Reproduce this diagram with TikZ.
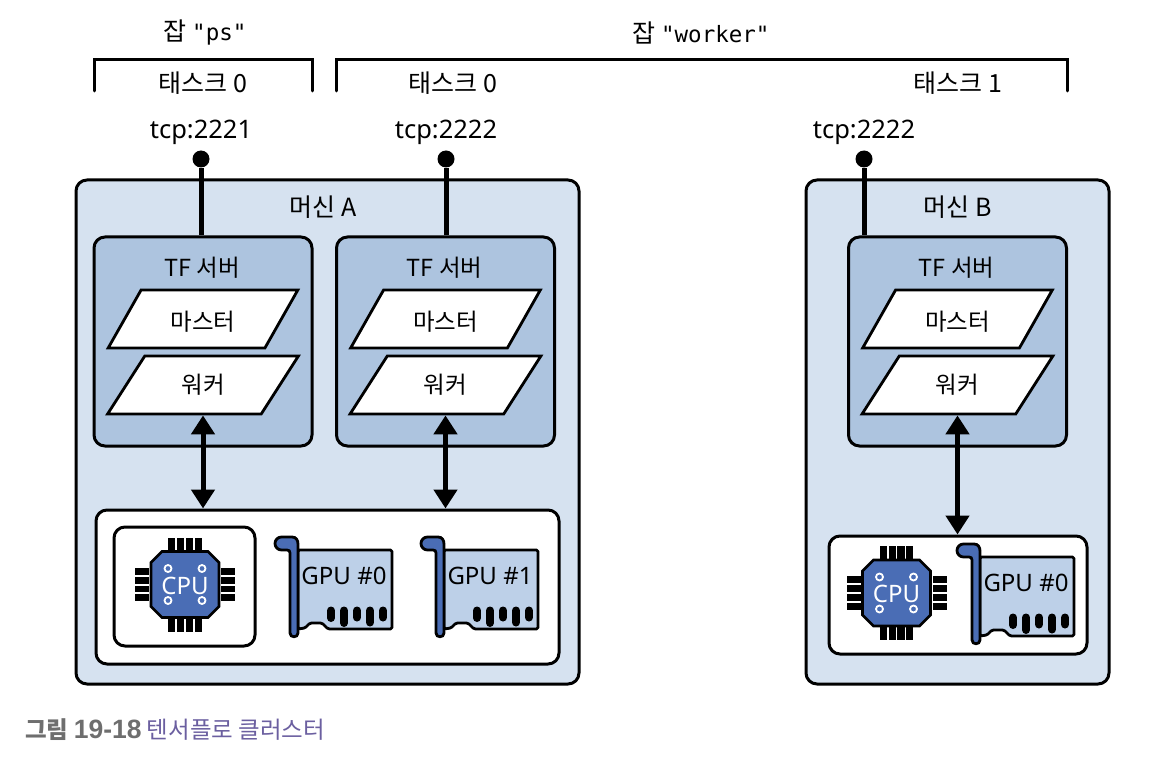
\documentclass[tikz,border=0pt]{standalone}
\usepackage{fontspec}
\setmainfont{Noto Sans}
\newfontfamily\krfont{Noto Sans CJK KR}
\newfontfamily\codefont{DejaVu Sans Mono}
\newfontfamily\capfont{Liberation Sans}
\usetikzlibrary{arrows.meta,shapes.geometric}
\definecolor{machinefill}{HTML}{D6E2F0}
\definecolor{serverfill}{HTML}{ADC4DF}
\definecolor{gpufill}{HTML}{BDD0E8}
\definecolor{chipblue}{HTML}{4A6DB5}
\definecolor{capgray}{HTML}{6E6E6E}
\definecolor{cappurple}{HTML}{6B5FA0}
\tikzset{
  box/.style={draw=black, line width=3pt, rounded corners=11pt, inner sep=0pt},
  machine/.style={box, fill=machinefill},
  server/.style={box, fill=serverfill, minimum width=218pt, minimum height=209pt},
  role/.style={draw=black, line width=2.8pt, fill=white, trapezium, trapezium left angle=57,
    trapezium right angle=123, trapezium stretches=true, minimum width=191pt,
    minimum height=58pt, inner sep=0pt, font=\fontsize{23.5}{25}\selectfont\krfont},
  label/.style={font=\fontsize{25}{27}\selectfont\krfont, inner sep=0pt},
  inlabel/.style={font=\fontsize{23.5}{25}\selectfont\krfont, inner sep=0pt},
  port/.style={font=\fontsize{25.5}{27}\selectfont, inner sep=0pt},
  dot/.style={circle, fill=black, minimum size=17pt, inner sep=0pt},
  wire/.style={line width=5pt},
  link/.style={line width=5pt, {Triangle[length=19pt,width=23pt]}-{Triangle[length=19pt,width=23pt]}},
  bracket/.style={line width=3pt, line cap=round},
  cpu/.pic={
    \foreach \i in {-1.5,-0.5,0.5,1.5} {
      \fill (\i*8.8-3.6, -47) rectangle (\i*8.8+3.6, -34);
      \fill (\i*8.8-3.6, 34) rectangle (\i*8.8+3.6, 47);
      \fill (-50, \i*8.8-3.4) rectangle (-36, \i*8.8+3.4);
      \fill (36, \i*8.8-3.4) rectangle (50, \i*8.8+3.4);
    }
    \draw [line width=2.6pt, fill=chipblue] (-23,-33) -- (23,-33) -- (34,-22) -- (34,22)
      -- (23,33) -- (-23,33) -- (-34,22) -- (-34,-22) -- cycle;
    \foreach \i/\j in {-17/-16, 17/-16, -17/16, 17/16}
      \draw [white, line width=1.8pt] (\i,\j) circle (3.5);
    \node [white, inner sep=0pt, font=\fontsize{24}{26}\selectfont] (-cpuname) at (0,1) {CPU};
  },
  gpu/.pic={
    % card
    \draw [line width=2.8pt, line join=round, fill=gpufill, rounded corners=1.5pt]
      (23,13) -- (117,13) -- (117,92) -- (53,92) -- (47,86) -- (35,86) -- (30,91) -- (23,92) -- cycle;
    \foreach \x/\h in {56/7.5, 69/12.5, 82/7, 95/12, 108/7}
      \draw [line width=8pt, line cap=round] (\x,73.5) -- (\x,73.5+\h);
    % bracket
    \draw [line width=2.8pt, fill=chipblue] (6.5,0) -- (17,0) .. controls (21,0) and (23,3) .. (23,7)
      -- (23,96) .. controls (23,101) and (15,101) .. (15,96) -- (15,16)
      .. controls (15,14) and (14,13) .. (12,13) -- (6.5,13) arc (90:270:6.5) -- cycle;
    \node [inner sep=0pt, font=\fontsize{24}{26}\selectfont] (-gpuname) at (69,39) {GPU \#\tikzpictext};
  },
}
\begin{document}
\begin{tikzpicture}[x=1pt, y=-1pt]
  \useasboundingbox (0,0) rectangle (1168,770);

  % Jobs and tasks
  \node [label] (jobps) at (205,33) {잡 {\codefont\fontsize{22.5}{24}\selectfont "ps"}};
  \node [label] (jobworker) at (701,33) {잡 {\codefont\fontsize{22.5}{24}\selectfont "worker"}};
  \node [label] (taskA) at (203,83) {태스크 0};
  \node [label] (taskB) at (453,83) {태스크 0};
  \node [label] (taskC) at (958,83) {태스크 1};
  \draw [bracket] (94,91) -- (94,60) -- (312,60) -- (312,91);
  \draw [bracket] (336,91) -- (336,60) -- (1067,60) -- (1067,91);

  % Machines
  \node [machine, minimum width=503pt, minimum height=504pt] (machineA) at (327.5,432) {};
  \node [machine, minimum width=303pt, minimum height=504pt] (machineB) at (957.5,432) {};
  \node [label] (nameA) at (323,207) {머신 A};
  \node [label] (nameB) at (958,207) {머신 B};

  % Device boxes
  \node [box, fill=white, minimum width=463pt, minimum height=154pt] (devicesA) at (327.5,587) {};
  \node [box, fill=white, minimum width=258pt, minimum height=118pt] (devicesB) at (958,595) {};
  \node [box, fill=white, minimum width=141pt, minimum height=119pt] (cpuboxA) at (184.5,586.5) {};
  \pic at (185,584.5) {cpu};
  \pic at (896.5,593) {cpu};
  \pic [pic text=0] at (275,537) {gpu};
  \pic [pic text=1] at (421,537) {gpu};
  \pic [pic text=0] at (957,544) {gpu};

  % Servers, one per task
  \foreach \id/\x/\dotx/\tcp/\dev in {A/203/201/2221/devicesA, B/445.5/446/2222/devicesA, C/957.5/864/2222/devicesB} {
    \node [server] (server\id) at (\x,341.5) {};
    \node [inlabel] (tf\id) at (\x-1,268) {TF 서버};
    \node [role] (master\id) at (\x,319) {\rule{0pt}{24.7pt}마스터};
    \node [role] (worker\id) at (\x,385) {워커};
    \node [dot] (dot\id) at (\dotx,159) {};
    \node [port] (tcp\id) at (\dotx,132) {tcp:\tcp};
    \draw [wire] (dot\id) -- (dot\id |- server\id.north);
    \draw [link] (worker\id.south) -- (worker\id.south |- \dev.north);
  }

  % Caption
  \node [anchor=west, inner sep=0pt, font=\fontsize{23.5}{25}\selectfont\krfont] (caption) at (25,730)
    {\textcolor{capgray}{\bfseries 그림 {\capfont\fontsize{26.5}{28}\selectfont 19-18}} \textcolor{cappurple}{텐서플로 클러스터}};
\end{tikzpicture}
\end{document}
